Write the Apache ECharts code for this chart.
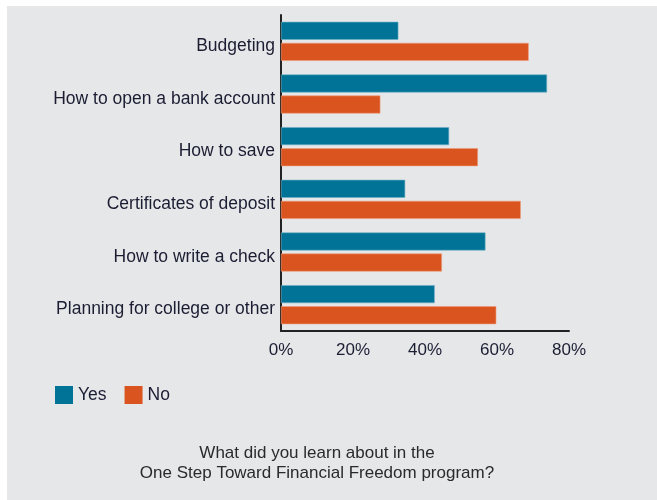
<!DOCTYPE html>
<html>
<head>
<meta charset="utf-8">
<style>
  html, body { margin: 0; padding: 0; background: #ffffff; }
  #chart { width: 657px; height: 500px; }
</style>
<script src="https://cdn.jsdelivr.net/npm/echarts@6/dist/echarts.min.js"></script>
</head>
<body>
<div id="chart"></div>
<script>
// Survey topics, top to bottom
const categories = [
  'Budgeting',
  'How to open a bank account',
  'How to save',
  'Certificates of deposit',
  'How to write a check',
  'Planning for college or other'
];
// Share of respondents (%)
const yesValues = [32.6, 73.9, 46.7, 34.5, 56.8, 42.7];
const noValues  = [68.8, 27.6, 54.7, 66.6, 44.7, 59.8];
const seriesNames = ['Yes', 'No'];
const axisMax = 80;
const axisStep = 20;
const titleLines = [
  'What did you learn about in the',
  'One Step Toward Financial Freedom program?'
];

const textColor = '#1b1d33';
const font = '"Liberation Sans", Arial, sans-serif';

const chart = echarts.init(document.getElementById('chart'));
chart.setOption({
  backgroundColor: '#ffffff',
  animation: false,
  graphic: [{
    type: 'rect',
    z: -10,
    shape: { x: 7, y: 6, width: 650, height: 494 },
    style: { fill: '#e6e7e8' }
  }, {
    type: 'text',
    x: 317,
    y: 443,
    style: {
      text: titleLines.join('\n'),
      fill: '#2a2a2a',
      fontSize: 17,
      fontFamily: font,
      lineHeight: 20,
      align: 'center',
      verticalAlign: 'top'
    }
  }],
  legend: {
    left: 50,
    top: 381,
    itemWidth: 18,
    itemHeight: 18,
    itemGap: 18,
    icon: 'rect',
    itemStyle: { borderWidth: 0 },
    textStyle: { color: textColor, fontSize: 17.5, fontFamily: font },
    data: seriesNames
  },
  grid: { left: 281, right: 88, top: 15, bottom: 169 },
  xAxis: {
    type: 'value',
    min: 0,
    max: axisMax,
    interval: axisStep,
    axisLine: { show: true, lineStyle: { color: '#222', width: 2 } },
    axisTick: { show: false },
    splitLine: { show: false },
    axisLabel: {
      color: textColor,
      fontSize: 17,
      fontFamily: font,
      margin: 11,
      formatter: v => v + '%'
    }
  },
  yAxis: {
    type: 'category',
    inverse: true,
    data: categories,
    axisLine: { show: true, lineStyle: { color: '#222', width: 2 } },
    axisTick: { show: false },
    axisLabel: {
      color: textColor,
      fontSize: 17.5,
      fontFamily: font,
      margin: 6,
      verticalAlign: 'top',
      lineHeight: 10
    }
  },
  series: [{
    name: seriesNames[0],
    type: 'bar',
    data: yesValues,
    barWidth: 18,
    barGap: '17%',
    itemStyle: { color: '#007396', borderColor: '#6fb0c6', borderWidth: 0.6 }
  }, {
    name: seriesNames[1],
    type: 'bar',
    data: noValues,
    barWidth: 18,
    itemStyle: { color: '#da541f', borderColor: '#ee9a7a', borderWidth: 0.6 }
  }]
});
</script>
</body>
</html>
